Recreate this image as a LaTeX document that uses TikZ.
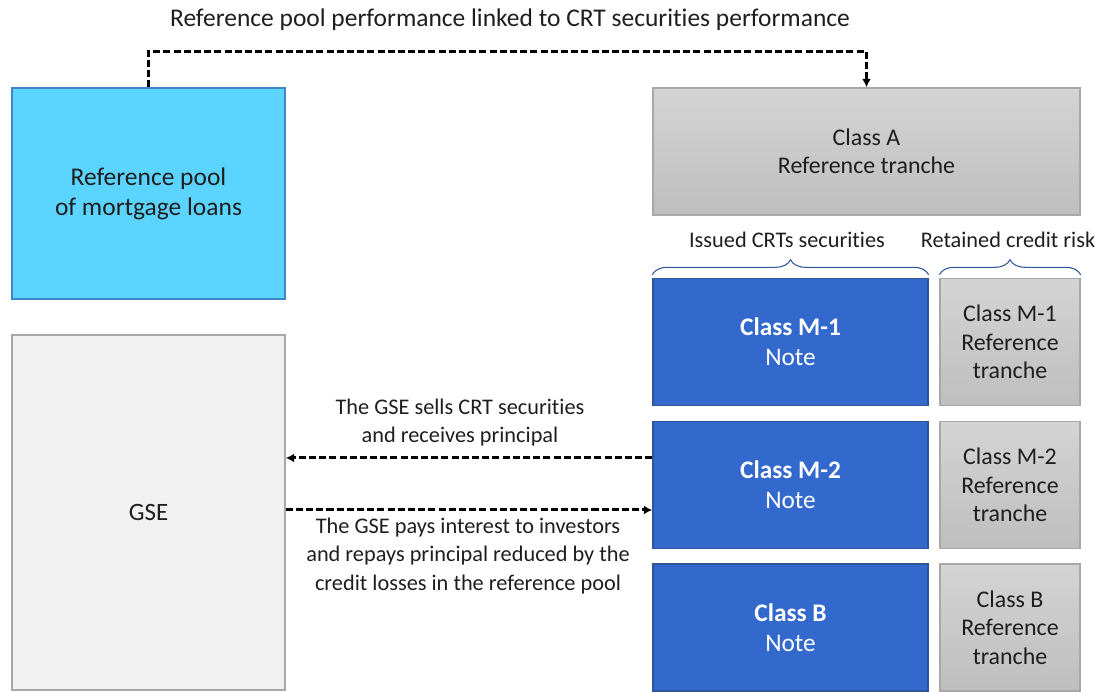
\documentclass[tikz,border=0pt]{standalone}
\usepackage{fontspec}
\setmainfont{Carlito}[Ligatures=NoCommon]
\usetikzlibrary{positioning,decorations.pathreplacing,arrows.meta}
\usepackage{xcolor}

\definecolor{poolfill}{HTML}{5BD5FF}
\definecolor{pooledge}{HTML}{3F86C8}
\definecolor{notefill}{HTML}{3369CC}
\definecolor{noteedge}{HTML}{2F5597}
\definecolor{gsefill}{HTML}{F1F1F1}
\definecolor{greyedge}{HTML}{A8A8A8}
\definecolor{greytop}{HTML}{D4D4D4}
\definecolor{greybot}{HTML}{BEBEBE}
\definecolor{inktext}{HTML}{1E1E1E}

\begin{document}
\begin{tikzpicture}[every node/.style={align=center, text=inktext, font=\fontsize{12.7}{16}\selectfont},
    plainbox/.style={rectangle, draw, line width=0.8pt, inner sep=2pt},
    poolbox/.style={plainbox, fill=poolfill, draw=pooledge, font=\fontsize{14.5}{17}\selectfont},
    gsebox/.style={plainbox, fill=gsefill, draw=greyedge, font=\fontsize{14.2}{16.5}\selectfont},
    greybox/.style={plainbox, top color=greytop, bottom color=greybot, draw=greyedge, font=\fontsize{13.6}{16.2}\selectfont},
    notebox/.style={plainbox, fill=notefill, draw=noteedge, text=white, minimum width=5.5cm, minimum height=2.54cm, font=\fontsize{14.4}{17}\selectfont},
    keptbox/.style={greybox, minimum width=2.8cm, minimum height=2.54cm},
    flow/.style={line width=1.7pt, dash pattern=on 4pt off 1.8pt, -{Latex[length=1.7mm,width=1.8mm]}},
    bracket/.style={draw=noteedge, line width=0.6pt, decorate, decoration={brace, amplitude=0.3cm}}]
    \useasboundingbox (0,0) rectangle (22.08,13.84);

    % Pola
    \node[poolbox, minimum width=5.46cm, minimum height=4.22cm] (pool) at (2.97,9.97) {Reference pool\\of mortgage loans};
    \node[gsebox, minimum width=5.46cm, minimum height=7.1cm] (gse) at (2.97,3.59) {GSE};
    \node[greybox, minimum width=8.54cm, minimum height=2.54cm] (classA) at (17.33,10.81) {Class A\\Reference tranche};

    \node[notebox] (m1) at (15.81,7.0) {\textbf{Class M-1}\\Note};
    \node[notebox] (m2) at (15.81,4.14) {\textbf{Class M-2}\\Note};
    \node[notebox] (mb) at (15.81,1.29) {\textbf{Class B}\\Note};

    \node[keptbox] (r1) at (20.2,7.0) {Class M-1\\Reference\\tranche};
    \node[keptbox] (r2) at (20.2,4.14) {Class M-2\\Reference\\tranche};
    \node[keptbox] (rb) at (20.2,1.29) {Class B\\Reference\\tranche};

    % Klamry
    \draw[bracket] ([yshift=0.06cm]m1.north west) -- ([yshift=0.06cm]m1.north east);
    \draw[bracket] ([yshift=0.06cm]r1.north west) -- ([yshift=0.06cm]r1.north east);
    \node (issued) at (15.74,9.04) {Issued CRTs securities};
    \node (retained) at (20.16,9.04) {Retained credit risk};

    % Opisy
    \node[font=\fontsize{14.5}{17}\selectfont] (perf) at (10.2,13.44) {Reference pool performance linked to CRT securities performance};
    \node (selltxt) at (9.2,5.38) {The GSE sells CRT securities\\and receives principal};
    \node (paytxt) at (9.36,2.72) {The GSE pays interest to investors\\and repays principal reduced by the\\credit losses in the reference pool};

    % Przepływy
    \draw[flow] (pool.north) -- ++(0,0.72) -| (classA.north);
    \draw[flow] ([yshift=0.54cm]m2.west) -- ([yshift=0.54cm]m2.west -| gse.east);
    \draw[flow] ([yshift=-0.5cm]gse.east |- m2.west) -- ([yshift=-0.5cm]m2.west);
\end{tikzpicture}
\end{document}
